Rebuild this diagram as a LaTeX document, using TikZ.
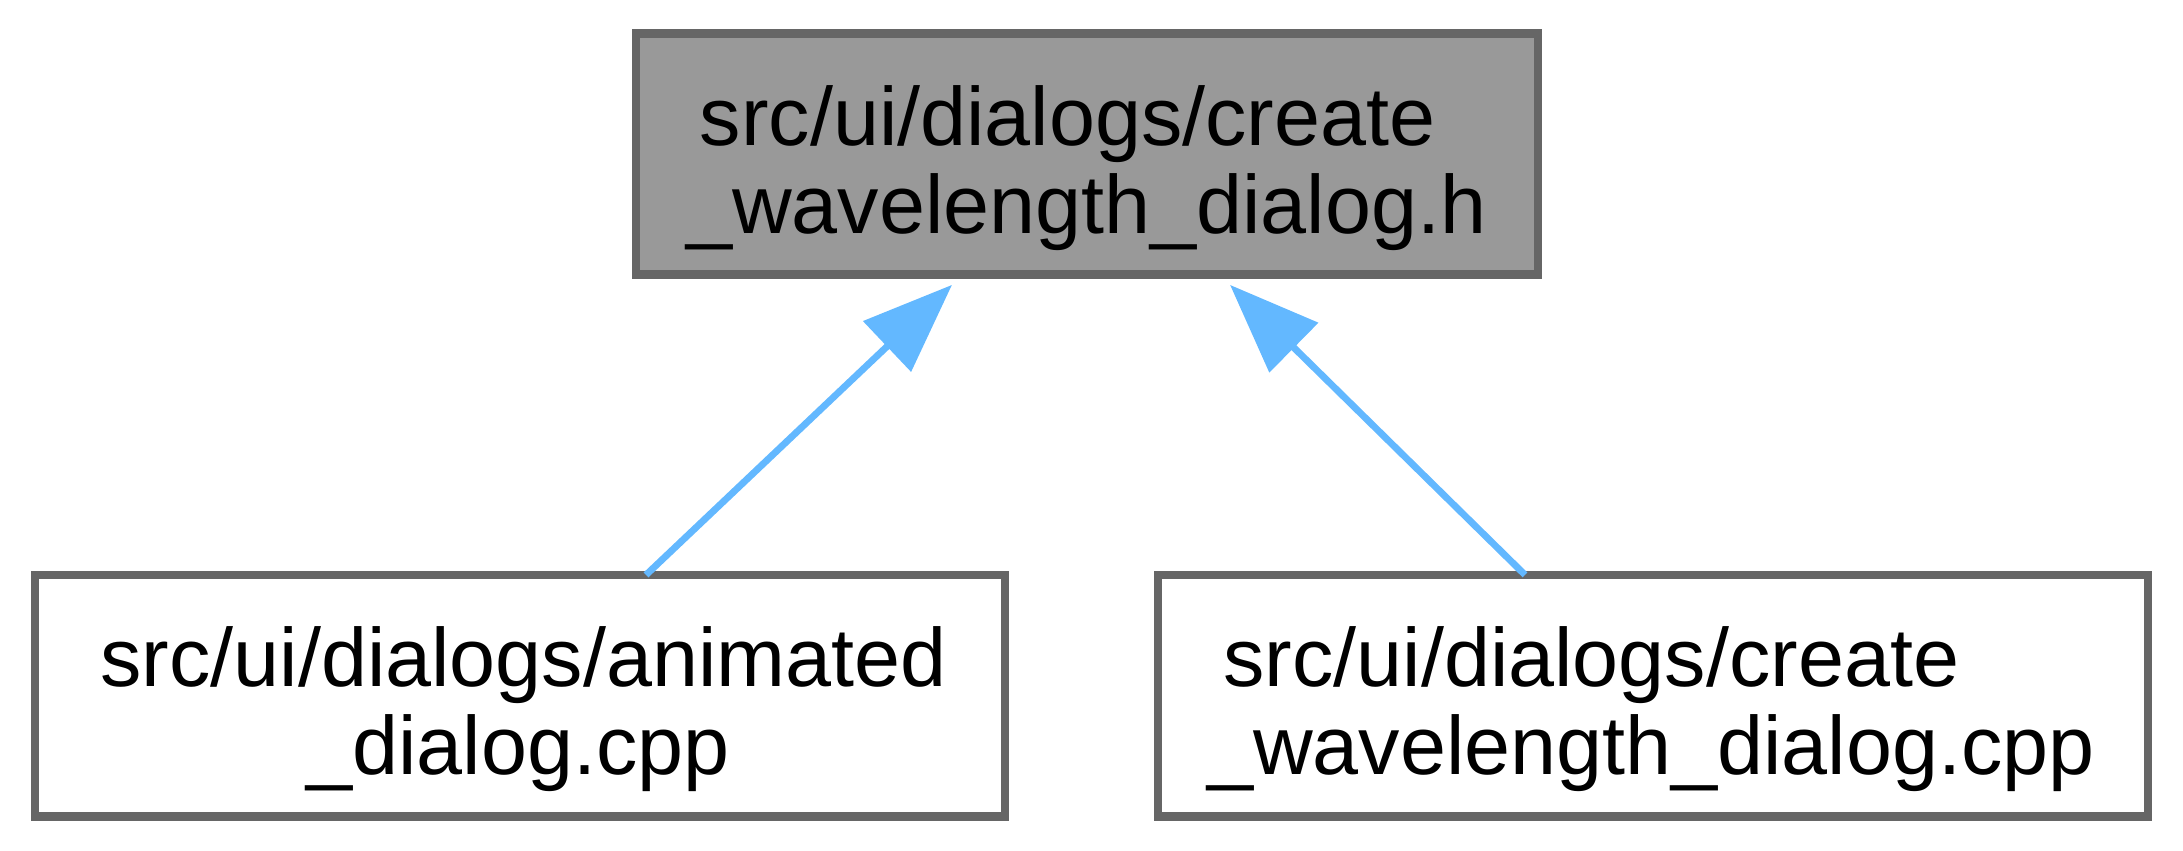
\documentclass[tikz,border=0pt]{standalone}
\usepackage{fontspec}
\setmainfont{Liberation Sans}
\usetikzlibrary{arrows.meta,calc}
\definecolor{nodeborder}{HTML}{666666}
\definecolor{nodefill}{HTML}{999999}
\definecolor{edgeblue}{HTML}{63B8FF}
\tikzset{
  filebox/.style={draw=nodeborder, line width=1pt, fill=white, rectangle, inner sep=0pt, outer sep=0pt, minimum height=28.3pt},
  curbox/.style={filebox, fill=nodefill},
  lbl/.style={inner sep=0pt, outer sep=0pt, anchor=base west, font=\fontsize{9.7}{11}\selectfont},
  depedge/.style={draw=edgeblue, line width=0.8pt, -{Triangle[length=10.5pt,width=8pt]}}
}
\begin{document}
\begin{tikzpicture}[x=1pt,y=1pt]
\useasboundingbox (0,0) rectangle (256.01,99.68);
% nodes
\node[curbox, minimum width=105.78pt] (top) at (127.48,81.62) {};
\node[filebox, minimum width=113.76pt] (left) at (60.98,18.11) {};
\node[filebox, minimum width=116.11pt] (right) at (193.86,18.11) {};
% labels
\node[lbl] (topA) at ($(top.north west)+(7.5,-13.13)$) {src/ui/dialogs/create};
\node[lbl] (topB) at ($(top.north west)+(5.86,-23.46)$) {\_wavelength\_dialog.h};
\node[lbl] (leftA) at ($(left.north west)+(7.68,-13.13)$) {src/ui/dialogs/animated};
\node[lbl] (leftB) at ($(left.north west)+(31.83,-23.46)$) {\_dialog.cpp};
\node[lbl] (rightA) at ($(right.north west)+(7.68,-13.13)$) {src/ui/dialogs/create};
\node[lbl] (rightB) at ($(right.north west)+(5.75,-23.46)$) {\_wavelength\_dialog.cpp};
% edges
\draw[depedge] ($(left.north west)+(71.66,0)$) -- ($(top.south west)+(37.05,-1.2)$);
\draw[depedge] ($(right.north west)+(43.04,0)$) -- ($(top.south west)+(69.66,-1.2)$);
\end{tikzpicture}
\end{document}
